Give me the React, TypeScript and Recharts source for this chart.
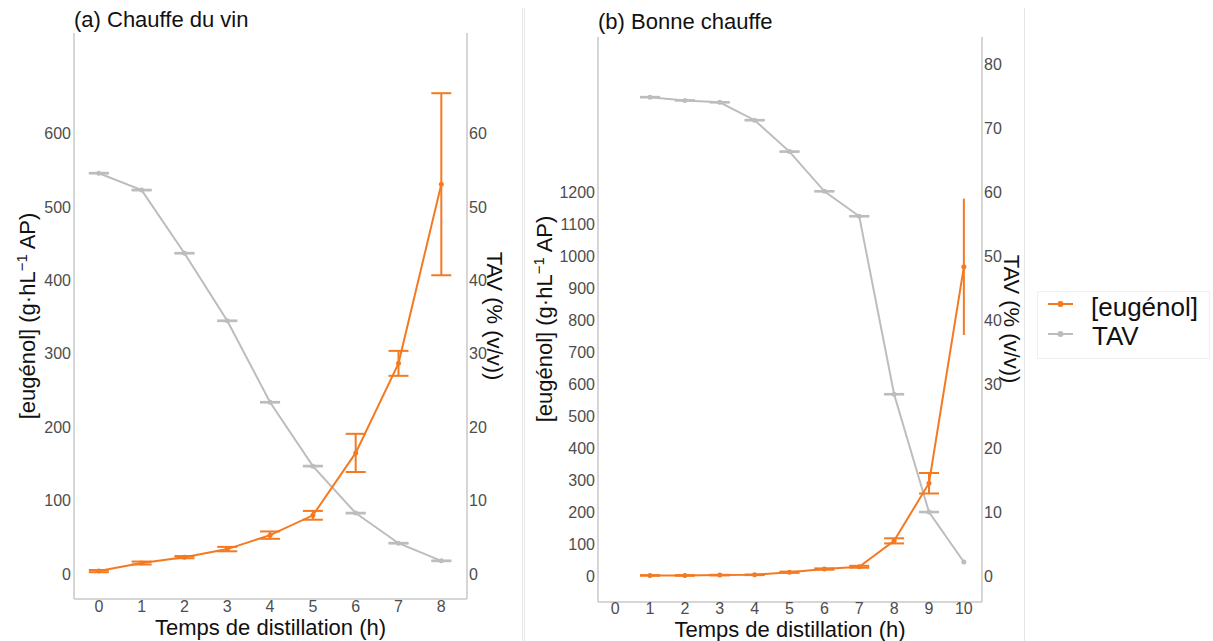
import React from 'react';
import { ComposedChart, Line, XAxis, YAxis, ErrorBar } from 'recharts';

const timeA = [0, 1, 2, 3, 4, 5, 6, 7, 8];
const eugenolA = [4, 15, 23, 34, 53, 80, 165, 287, 531];
const eugenolErrA = [1.5, 2, 1.5, 3, 5, 6, 26, 17, 124];
const tavA = [54.6, 52.3, 43.7, 34.5, 23.4, 14.7, 8.3, 4.2, 1.8];
const tavErrA = [0.05, 0.05, 0.05, 0.05, 0.05, 0.05, 0.05, 0.05, 0.05];

const timeB = [1, 2, 3, 4, 5, 6, 7, 8, 9, 10];
const eugenolB = [2, 2, 3, 4, 12, 22, 29, 110, 290, 966];
const eugenolErrB = [1, 1, 1, 1, 2, 2, 3, 8, 32, 213];
const tavB = [74.8, 74.3, 74.0, 71.2, 66.3, 60.1, 56.2, 28.4, 10.0, 2.2];
const tavErrB = [0.05, 0.05, 0.05, 0.05, 0.05, 0.05, 0.05, 0.05, 0.05, 0];

const ticksXA = [0, 1, 2, 3, 4, 5, 6, 7, 8];
const ticksXB = [0, 1, 2, 3, 4, 5, 6, 7, 8, 9, 10];
const ticksEugA = [0, 100, 200, 300, 400, 500, 600];
const ticksTavA = [0, 10, 20, 30, 40, 50, 60];
const ticksEugB = [0, 100, 200, 300, 400, 500, 600, 700, 800, 900, 1000, 1100, 1200];
const ticksTavB = [0, 10, 20, 30, 40, 50, 60, 70, 80];

const ORANGE = '#f47a22';
const GREY = '#bdbdbd';
const AXIS = '#c8c8c8';
const FONT = '"Liberation Sans", Arial, sans-serif';

const dataA = timeA.map((t, i) => ({
  t,
  eug: eugenolA[i],
  eugErr: eugenolErrA[i],
  tav: tavA[i],
  tavErr: tavErrA[i],
}));

const lastB = timeB.length - 1;
const dataB = timeB.map((t, i) => ({
  t,
  eug: eugenolB[i],
  eugErrCap: i === lastB ? 0 : eugenolErrB[i],
  eugErrNoCap: i === lastB ? eugenolErrB[i] : 0,
  tav: tavB[i],
  tavErr: tavErrB[i],
}));

const tickStyle = { fill: '#4d4d4d', fontSize: 16, fontFamily: FONT };

export default function App() {
  return (
    <div style={{ position: 'absolute', left: 0, top: 0, width: 1213, height: 641, background: '#fff', fontFamily: FONT }}>
      <div style={{ position: 'absolute', left: 0, top: 0 }}>
        <ComposedChart width={524} height={641} data={dataA} margin={{ top: 33, right: 0, bottom: 0, left: 0 }}>
          <XAxis
            dataKey="t"
            type="number"
            domain={[-0.58, 8.6]}
            ticks={ticksXA}
            allowDataOverflow
            height={42}
            tickLine={false}
            tickSize={0}
            tickMargin={2}
            axisLine={{ stroke: AXIS, strokeWidth: 1.5 }}
            tick={tickStyle}
          />
          <YAxis
            yAxisId="left"
            domain={[-34, 737]}
            ticks={ticksEugA}
            allowDataOverflow
            width={74}
            tickLine={false}
            tickSize={0}
            tickMargin={3}
            axisLine={{ stroke: AXIS, strokeWidth: 1.5 }}
            tick={tickStyle}
          />
          <YAxis
            yAxisId="right"
            orientation="right"
            domain={[-3.4, 73.7]}
            ticks={ticksTavA}
            allowDataOverflow
            width={57}
            tickLine={false}
            tickSize={0}
            tickMargin={2}
            axisLine={{ stroke: AXIS, strokeWidth: 1.5 }}
            tick={{ ...tickStyle, textAnchor: 'start' }}
          />
          <Line
            yAxisId="right"
            dataKey="tav"
            stroke={GREY}
            strokeWidth={2}
            dot={{ r: 2.5, fill: GREY, stroke: GREY, strokeWidth: 0 }}
            isAnimationActive={false}
          >
            <ErrorBar dataKey="tavErr" width={10} stroke={GREY} strokeWidth={2} />
          </Line>
          <Line
            yAxisId="left"
            dataKey="eug"
            stroke={ORANGE}
            strokeWidth={2}
            dot={{ r: 2.5, fill: ORANGE, stroke: ORANGE, strokeWidth: 0 }}
            isAnimationActive={false}
          >
            <ErrorBar dataKey="eugErr" width={10} stroke={ORANGE} strokeWidth={2} />
          </Line>
        </ComposedChart>
      </div>
      <div style={{ position: 'absolute', left: 524, top: 0 }}>
        <ComposedChart width={500} height={641} data={dataB} margin={{ top: 37, right: 0, bottom: 0, left: 0 }}>
          <XAxis
            dataKey="t"
            type="number"
            domain={[-0.49, 10.52]}
            ticks={ticksXB}
            allowDataOverflow
            height={39}
            tickLine={false}
            tickSize={0}
            tickMargin={1}
            axisLine={{ stroke: AXIS, strokeWidth: 1.5 }}
            tick={tickStyle}
          />
          <YAxis
            yAxisId="left"
            domain={[-81, 1684]}
            ticks={ticksEugB}
            allowDataOverflow
            width={74}
            tickLine={false}
            tickSize={0}
            tickMargin={3}
            axisLine={{ stroke: AXIS, strokeWidth: 1.5 }}
            tick={tickStyle}
          />
          <YAxis
            yAxisId="right"
            orientation="right"
            domain={[-4.05, 84.2]}
            ticks={ticksTavB}
            allowDataOverflow
            width={42}
            tickLine={false}
            tickSize={0}
            tickMargin={2}
            axisLine={{ stroke: AXIS, strokeWidth: 1.5 }}
            tick={{ ...tickStyle, textAnchor: 'start' }}
          />
          <Line
            yAxisId="right"
            dataKey="tav"
            stroke={GREY}
            strokeWidth={2}
            dot={{ r: 2.5, fill: GREY, stroke: GREY, strokeWidth: 0 }}
            isAnimationActive={false}
          >
            <ErrorBar dataKey="tavErr" width={10} stroke={GREY} strokeWidth={2} />
          </Line>
          <Line
            yAxisId="left"
            dataKey="eug"
            stroke={ORANGE}
            strokeWidth={2}
            dot={{ r: 2.5, fill: ORANGE, stroke: ORANGE, strokeWidth: 0 }}
            isAnimationActive={false}
          >
            <ErrorBar dataKey="eugErrCap" width={10} stroke={ORANGE} strokeWidth={2} />
            <ErrorBar dataKey="eugErrNoCap" width={0} stroke={ORANGE} strokeWidth={2} />
          </Line>
        </ComposedChart>
      </div>
      <svg
        width={1213}
        height={641}
        style={{ position: 'absolute', left: 0, top: 0, pointerEvents: 'none' }}
        fontFamily={FONT}
      >
        <line x1={522.5} y1={8} x2={522.5} y2={641} stroke="#e6e6e6" strokeWidth={1} />
        <line x1={524.5} y1={8} x2={524.5} y2={641} stroke="#e6e6e6" strokeWidth={1} />
        <line x1={1024.5} y1={8} x2={1024.5} y2={641} stroke="#e6e6e6" strokeWidth={1} />

        <text x={74} y={27} fontSize={22} fill="#111">(a) Chauffe du vin</text>
        <text x={598} y={29} fontSize={22} fill="#111">(b) Bonne chauffe</text>

        <text x={270.5} y={635} fontSize={22} fill="#111" textAnchor="middle">Temps de distillation (h)</text>
        <text x={790} y={637} fontSize={22} fill="#111" textAnchor="middle">Temps de distillation (h)</text>

        <text transform="rotate(-90 35 316)" x={35} y={316} fontSize={22} fill="#111" textAnchor="middle">
          [eugénol] (g·hL<tspan dy={-8} fontSize={15}>−1</tspan><tspan dy={8}> AP)</tspan>
        </text>
        <text transform="rotate(-90 552 319)" x={552} y={319} fontSize={22} fill="#111" textAnchor="middle">
          [eugénol] (g·hL<tspan dy={-8} fontSize={15}>−1</tspan><tspan dy={8}> AP)</tspan>
        </text>

        <text transform="rotate(90 487 316)" x={487} y={316} fontSize={22} fill="#111" textAnchor="middle">TAV (% (v/v))</text>
        <text transform="rotate(90 1004 319)" x={1004} y={319} fontSize={22} fill="#111" textAnchor="middle">TAV (% (v/v))</text>

        <rect x={1037.5} y={291.5} width={172} height={67} fill="none" stroke="#f0f0f0" strokeWidth={1} />
        <line x1={1048} y1={304} x2={1073} y2={304} stroke={ORANGE} strokeWidth={2} />
        <circle cx={1060.5} cy={304} r={3} fill={ORANGE} />
        <line x1={1048} y1={334} x2={1073} y2={334} stroke={GREY} strokeWidth={2} />
        <circle cx={1060.5} cy={334} r={3} fill={GREY} />
        <text x={1091} y={315.5} fontSize={26} fill="#111">[eugénol]</text>
        <text x={1092} y={345} fontSize={26} fill="#111">TAV</text>
      </svg>
    </div>
  );
}
